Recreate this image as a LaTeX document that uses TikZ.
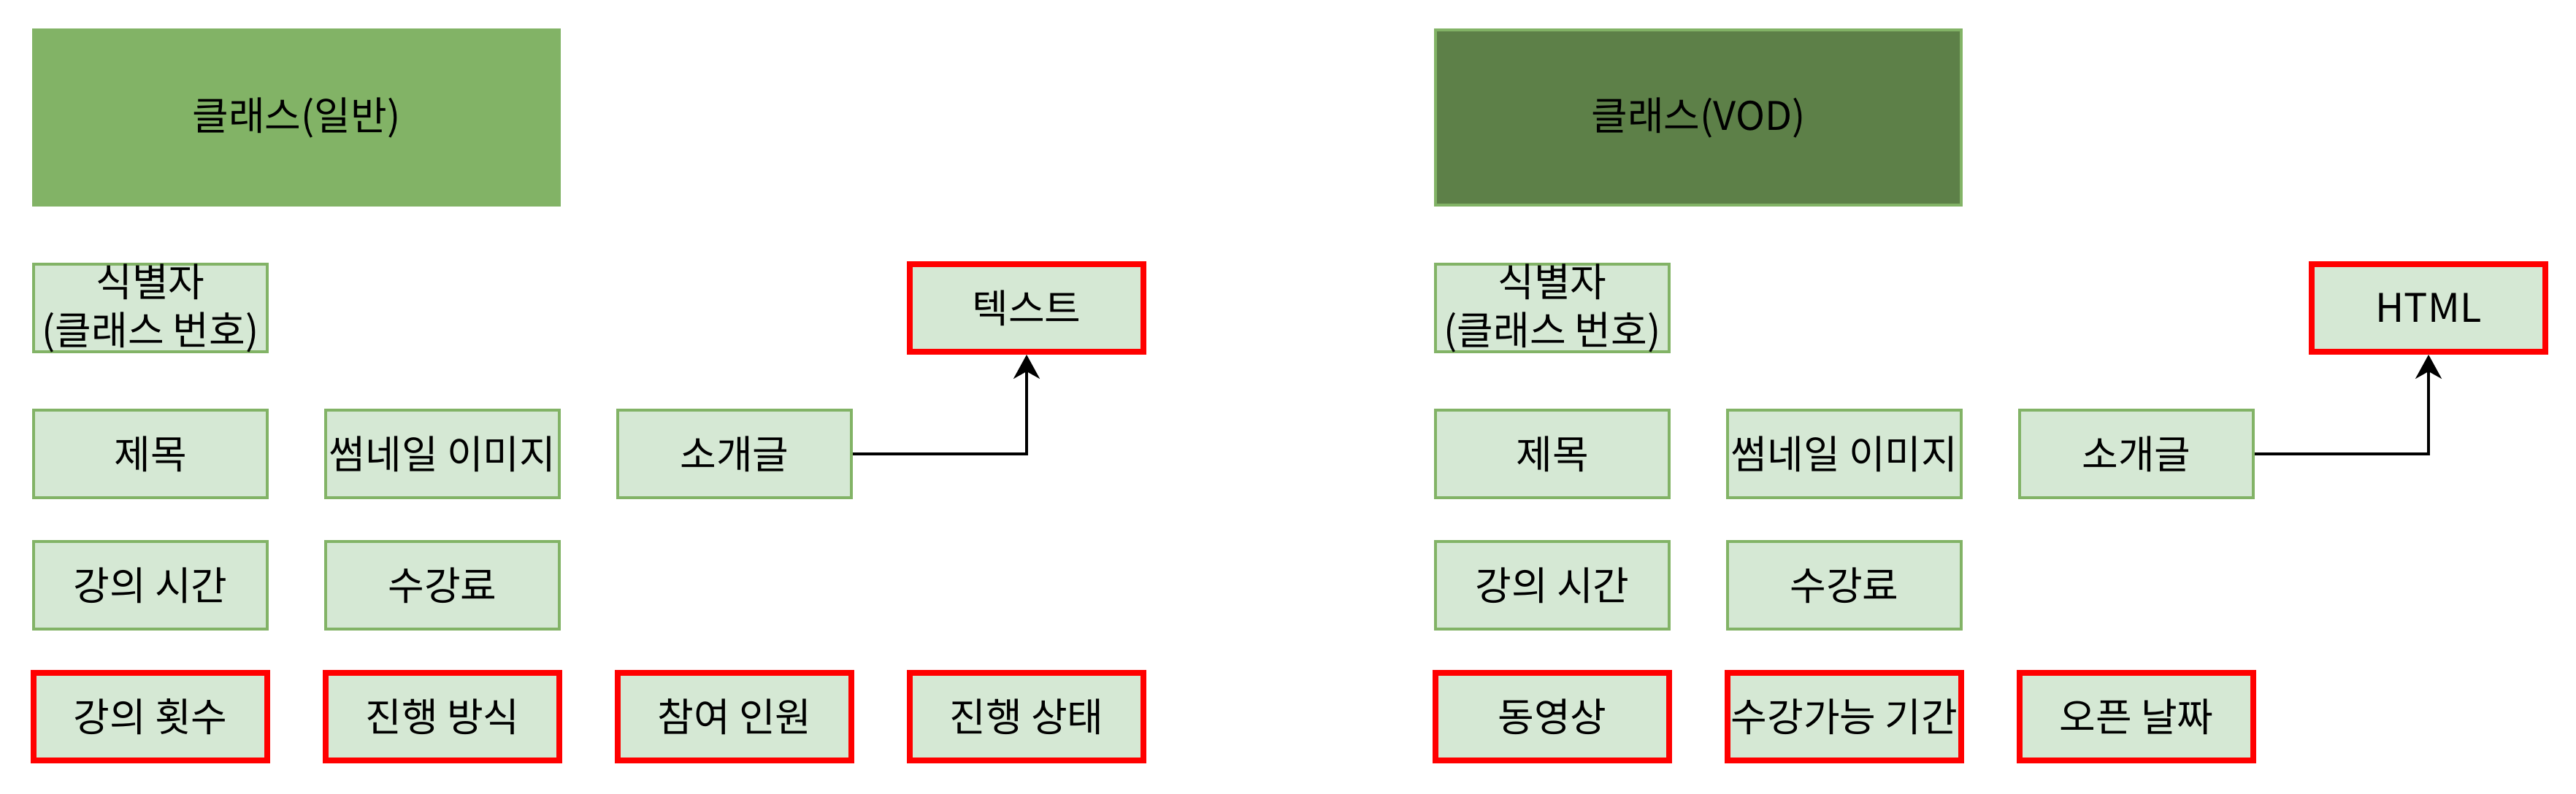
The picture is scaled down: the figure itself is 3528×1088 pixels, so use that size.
\documentclass[tikz,border=0pt]{standalone}
\usepackage{fontspec}
\setmainfont{Noto Sans CJK KR}
\usetikzlibrary{arrows.meta}
\definecolor{gstroke}{HTML}{82B366}
\definecolor{gfill}{HTML}{D5E8D4}
\definecolor{dgreen}{HTML}{5D8048}
\definecolor{redc}{HTML}{FF0000}
\begin{document}
\begin{tikzpicture}[x=0.25pt,y=-0.25pt,
  attr/.style={draw=gstroke, fill=gfill, line width=1pt, minimum width=80pt,
    minimum height=30pt, inner sep=0pt, align=center,
    font=\fontsize{13.5}{16.5}\selectfont},
  twoline/.style={inner ysep=-3pt},
  newattr/.style={attr, draw=redc, line width=2pt},
  titlebox/.style={attr, minimum width=180pt, minimum height=60pt},
  link/.style={line width=0.85pt, -{Stealth[length=8.25pt,width=9pt,inset=2.5pt]}}]
\useasboundingbox (0,0) rectangle (3528,1088);

% ---------- left group: 클래스(일반) ----------
\node[titlebox, fill=gstroke] (tL) at (406,161) {클래스(일반)};
\node[attr, twoline] (idL) at (206,422) {식별자\\(클래스 번호)};
\node[newattr] (txL) at (1406,422) {텍스트};
\node[attr] (ttL) at (206,622) {제목};
\node[attr] (thL) at (606,622) {썸네일 이미지};
\node[attr] (inL) at (1006,622) {소개글};
\node[attr] (ltL) at (206,802) {강의 시간};
\node[attr] (feL) at (606,802) {수강료};
\node[newattr] (cnL) at (206,982) {강의 횟수};
\node[newattr] (mdL) at (606,982) {진행 방식};
\node[newattr] (ppL) at (1006,982) {참여 인원};
\node[newattr] (stL) at (1406,982) {진행 상태};
\draw[link] (inL.east) -| (txL.south);

% ---------- right group: 클래스(VOD) ----------
\node[titlebox, fill=dgreen] (tR) at (2326,161) {클래스(VOD)};
\node[attr, twoline] (idR) at (2126,422) {식별자\\(클래스 번호)};
\node[newattr] (txR) at (3326,422) {HTML};
\node[attr] (ttR) at (2126,622) {제목};
\node[attr] (thR) at (2526,622) {썸네일 이미지};
\node[attr] (inR) at (2926,622) {소개글};
\node[attr] (ltR) at (2126,802) {강의 시간};
\node[attr] (feR) at (2526,802) {수강료};
\node[newattr] (vdR) at (2126,982) {동영상};
\node[newattr] (prR) at (2526,982) {수강가능 기간};
\node[newattr] (opR) at (2926,982) {오픈 날짜};
\draw[link] (inR.east) -| (txR.south);
\end{tikzpicture}
\end{document}
